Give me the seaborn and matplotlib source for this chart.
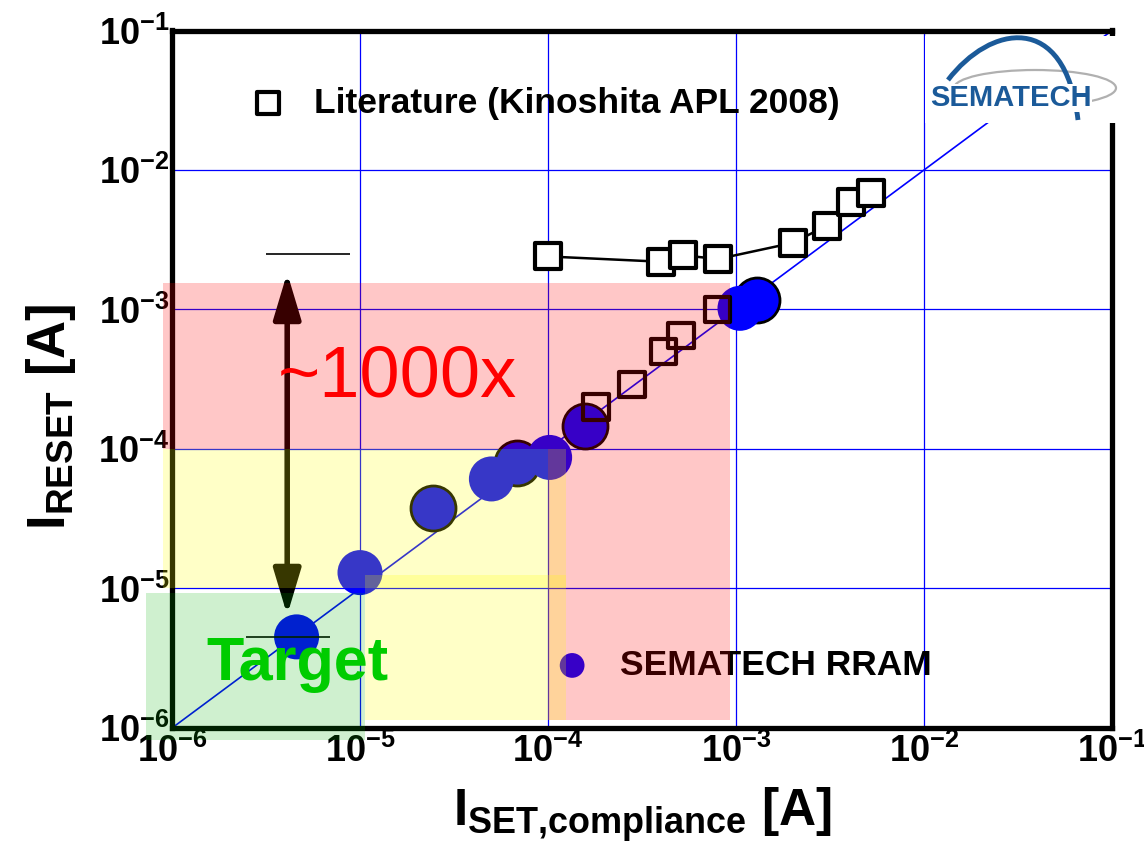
import numpy as np
import matplotlib
matplotlib.use("Agg")
import matplotlib.pyplot as plt
import matplotlib.patches as mpatches
from matplotlib.path import Path
import seaborn as sns


# Literature (Kinoshita APL 2008): upper branch (connected) and lower branch
lit_curve_x = [1.0e-4, 4.0e-4, 5.2e-4, 8.0e-4, 2.0e-3, 3.05e-3, 4.1e-3, 5.2e-3]
lit_curve_y = [2.4e-3, 2.2e-3, 2.45e-3, 2.3e-3, 3.0e-3, 4.0e-3, 5.9e-3, 6.8e-3]
lit_diag_x = [1.8e-4, 2.8e-4, 4.1e-4, 5.1e-4, 8.0e-4]
lit_diag_y = [2.0e-4, 2.9e-4, 5.0e-4, 6.5e-4, 1.0e-3]

# SEMATECH RRAM (outlined points / plain points)
rram_a_x = [2.45e-5, 6.8e-5, 1.57e-4, 1.29e-3]
rram_a_y = [3.75e-5, 7.9e-5, 1.45e-4, 1.17e-3]
rram_b_x = [4.6e-6, 1.0e-5, 5.0e-5, 1.02e-4, 1.05e-3]
rram_b_y = [4.5e-6, 1.3e-5, 6.1e-5, 8.7e-5, 1.02e-3]

# I_RESET = I_SET line
unity = [1e-6, 1e-1]

decades = [1e-6, 1e-5, 1e-4, 1e-3, 1e-2, 1e-1]
exps = [-6, -5, -4, -3, -2, -1]

# shaded regions (x0, x1, y0, y1)
red_regions = [(8.95e-7, 9.3e-4, 1.0e-4, 1.56e-3), (1.0e-4, 9.3e-4, 1.14e-6, 1.0e-4)]
yellow_regions = [(8.95e-7, 1.24e-4, 1.0e-5, 1.0e-4), (1.06e-5, 1.24e-4, 1.14e-6, 1.25e-5)]
green_regions = [(7.3e-7, 1.06e-5, 8.2e-7, 9.3e-6)]

# arrow span and short reference bars
arrow_x = 4.1e-6
arrow_top = 1.83e-3
arrow_bot = 6.45e-6
bar_y = [2.5e-3, 4.47e-6]
bar_x0 = [3.16e-6, 2.47e-6]
bar_x1 = [8.9e-6, 6.9e-6]


sns.set_theme(style="white")
plt.rcParams["font.family"] = ["Liberation Sans", "DejaVu Sans"]
plt.rcParams["text.color"] = "black"
plt.rcParams["mathtext.fontset"] = "custom"
plt.rcParams["mathtext.rm"] = "Liberation Sans"
plt.rcParams["mathtext.bf"] = "Liberation Sans:bold"
plt.rcParams["mathtext.it"] = "Liberation Sans:italic"

fig = plt.figure(figsize=(11.44, 8.52), dpi=100)
ax = fig.add_axes([172/1144, 1 - 728/852, 940/1144, 697.5/852])
ax.set_xscale("log")
ax.set_yscale("log")
ax.set_xlim(1e-6, 1e-1)
ax.set_ylim(1e-6, 1e-1)

ax.grid(True, which="major", color="#0000ff", lw=0.9)
ax.set_axisbelow(True)

sns.lineplot(x=unity, y=unity, color="#0000ff", lw=1.2, ax=ax, zorder=2.1)
sns.lineplot(x=lit_curve_x, y=lit_curve_y, color="black", lw=1.8, ax=ax,
             zorder=2.2, sort=True)

sns.scatterplot(x=rram_a_x, y=rram_a_y, s=1050, color="#0000ff", edgecolor="black",
                linewidth=2, ax=ax, zorder=3)
sns.scatterplot(x=rram_b_x, y=rram_b_y, s=1050, color="#0000ff", edgecolor="none",
                linewidth=0, ax=ax, zorder=3.1, label="SEMATECH RRAM")

sns.scatterplot(x=lit_curve_x, y=lit_curve_y, marker="s", s=330, color="white",
                edgecolor="black", linewidth=3, ax=ax, zorder=3.5,
                label="Literature (Kinoshita APL 2008)")
sns.scatterplot(x=lit_diag_x, y=lit_diag_y, marker="s", s=330, facecolor="none",
                edgecolor="black", linewidth=3, ax=ax, zorder=3.5)

# double arrow and reference bars
ax.annotate("", xy=(arrow_x, arrow_top), xytext=(arrow_x, arrow_bot),
            arrowprops=dict(arrowstyle="<|-|>,head_length=1.4,head_width=0.42",
                            color="black", lw=4, shrinkA=0, shrinkB=0,
                            mutation_scale=20),
            zorder=4)
ax.hlines(bar_y, bar_x0, bar_x1, color="black", lw=1.2, zorder=4)

# legends
handles, labels = ax.get_legend_handles_labels()
lit_h = [h for h, l in zip(handles, labels) if l.startswith("Literature")]
sem_h = [h for h, l in zip(handles, labels) if l.startswith("SEMATECH")]
leg1 = ax.legend(lit_h, ["Literature (Kinoshita APL 2008)"], loc="center left",
                 bbox_to_anchor=(0.064, 0.896), frameon=False, markerscale=0.85,
                 handletextpad=0.3, borderpad=0, borderaxespad=0,
                 prop=dict(size=25.5, weight="bold"))
leg1.set_zorder(5)
ax.add_artist(leg1)
leg2 = ax.legend(sem_h, ["SEMATECH RRAM"], loc="center left",
                 bbox_to_anchor=(0.388, 0.090), frameon=False, markerscale=0.55,
                 handletextpad=0.35, borderpad=0, borderaxespad=0,
                 prop=dict(size=25.5, weight="bold"))
leg2.set_zorder(5)

# translucent target regions on top of the data
for regions, col, a in [(red_regions, "#ff0000", 0.22),
                        (yellow_regions, "#ffff00", 0.22),
                        (green_regions, "#00b400", 0.19)]:
    for x0, x1, y0, y1 in regions:
        ax.add_patch(mpatches.Rectangle((x0, y0), x1 - x0, y1 - y0, facecolor=col,
                                        edgecolor="none", alpha=a, zorder=6,
                                        clip_on=False))

ax.text(3.66e-6, 2.36e-4, "~1000x", color="#ff0000", fontsize=52,
        ha="left", va="baseline", zorder=8)
ax.text(1.52e-6, 2.21e-6, "Target", color="#00cc00", fontsize=44,
        fontweight="bold", ha="left", va="baseline", zorder=8)

# axes styling
for sp in ax.spines.values():
    sp.set_color("black")
    sp.set_linewidth(3.8)
ax.set_xticks(decades)
ax.set_yticks(decades)
ax.set_xticklabels([r"$\mathbf{10}^{\mathbf{%d}}$" % e for e in exps])
ax.set_yticklabels([r"$\mathbf{10}^{\mathbf{%d}}$" % e for e in exps])
ax.minorticks_off()
ax.tick_params(axis="both", which="both", length=0, labelsize=26, colors="black")
ax.tick_params(axis="x", pad=4)
ax.tick_params(axis="y", pad=2)

ax.set_xlabel(r"$\mathbf{I}_{\mathbf{SET{,}compliance}}$ [A]", fontsize=37,
              fontweight="bold", color="black")
ax.set_ylabel(r"$\mathbf{I}_{\mathbf{RESET}}$ [A]", fontsize=38,
              fontweight="bold", color="black")
ax.xaxis.set_label_coords(0.5, -0.082)
ax.yaxis.set_label_coords(-0.10, 0.447)


# SEMATECH logo (top right corner)
def px(x, y):
    return (x / 1144, 1 - y / 852)


logo_bg = mpatches.Rectangle(px(925, 123), 195 / 1144, 87 / 852, transform=fig.transFigure,
                             facecolor="white", edgecolor="none", zorder=10)
fig.add_artist(logo_bg)
ring = mpatches.Ellipse(px(1035, 88), 162 / 1144, 36 / 852, transform=fig.transFigure,
                        facecolor="none", edgecolor="#b0b0b0", lw=1.6, zorder=11)
fig.add_artist(ring)
swoosh = Path([px(948, 80), px(990, 25), px(1065, 10), px(1078, 120)],
              [Path.MOVETO, Path.CURVE4, Path.CURVE4, Path.CURVE4])
fig.add_artist(mpatches.PathPatch(swoosh, transform=fig.transFigure, facecolor="none",
                                  edgecolor="#1b5a99", lw=3.5, zorder=11))
fig.text(*px(1011, 98), "SEMATECH", color="#1b5a99", fontsize=21, fontweight="bold",
         ha="center", va="center", zorder=12,
         bbox=dict(facecolor="white", edgecolor="none", pad=0.3))

fig.savefig("out.png", dpi=100)
